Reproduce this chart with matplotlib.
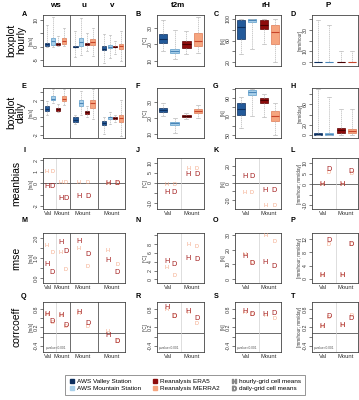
import matplotlib
matplotlib.use('Agg')
import matplotlib.pyplot as plt
from matplotlib.lines import Line2D

plt.rcParams['font.family'] = ['Liberation Sans', 'DejaVu Sans']

# colours: (face, edge, median)
valley_col = ('#235a9a', '#0d2f5e', '#0d2f5e')
mount_col = ('#a9d0ea', '#5a9bc9', '#4a86b8')
era5_col = ('#8e0c0c', '#5c0000', '#4a0000')
merra_col = ('#f6a57f', '#e07a55', '#c8452a')
box_cols = [valley_col, mount_col, era5_col, merra_col]
era5_txt = '#a31c1c'
merra_txt = '#f4a582'

# ---- boxplot stats per series [whislo, q1, median, q3, whishi]
# order: AWS valley, AWS mountain, ERA5, MERRA2
ws_hourly = [[0.0, 0.4, 1.0, 1.5, 8.0], [0.0, 0.7, 2.2, 3.2, 11.0],
             [0.2, 0.5, 1.0, 1.4, 4.0], [0.2, 0.8, 2.3, 3.1, 7.0]]
u_hourly = [[-3.8, -0.2, 0.0, 0.2, 5.9], [-3.0, 0.4, 1.9, 3.1, 10.6],
            [-1.5, 0.5, 0.8, 1.2, 5.0], [-3.5, 0.5, 1.6, 2.8, 7.0]]
v_hourly = [[-6.2, -1.4, -0.8, 0.1, 4.9], [-4.2, -0.6, 0.0, 0.5, 4.3],
            [-2.9, -0.2, 0.0, 0.2, 2.0], [-5.3, -1.0, 0.1, 0.9, 5.8]]
t2m_hourly = [[16.0, 21.0, 23.3, 25.9, 34.7], [11.0, 14.7, 16.0, 17.0, 28.8],
              [14.0, 18.0, 20.0, 22.0, 27.8], [15.0, 19.0, 21.9, 26.9, 36.5]]
rh_hourly = [[35, 62, 84, 98, 100], [44, 95, 98, 100, 100],
             [53, 82, 89, 98, 100], [20, 53, 75, 89, 100]]
p_hourly = [[0, 0, 0, 0.1, 39], [0, 0, 0, 0.1, 34.5],
            [0, 0, 0.1, 0.4, 10.5], [0, 0, 0.1, 0.3, 10]]

ws_daily = [[0.3, 0.77, 1.0, 1.29, 1.9], [1.7, 2.0, 2.2, 2.5, 3.3],
            [0.6, 0.8, 0.95, 1.1, 1.6], [1.5, 1.9, 2.2, 2.5, 3.3]]
u_daily = [[-0.8, -0.5, -0.25, 0.0, 0.3], [0.3, 1.3, 1.65, 2.0, 3.1],
           [0.1, 0.4, 0.6, 0.8, 1.3], [-0.2, 1.1, 1.7, 2.1, 3.3]]
v_daily = [[-1.9, -0.9, -0.65, -0.4, 0.1], [-0.8, -0.2, 0.0, 0.1, 0.6],
           [-0.5, -0.2, -0.05, 0.05, 0.3], [-2.2, -0.5, -0.1, 0.3, 2.0]]
t2m_daily = [[21.0, 23.6, 25.0, 26.0, 29.2], [10.7, 15.5, 16.5, 17.3, 20.0],
             [19.0, 20.8, 21.4, 22.0, 23.2], [20.0, 23.2, 24.3, 25.3, 28.0]]
rh_daily = [[57, 72, 78, 85, 91], [70, 93, 97, 99, 100],
            [69, 85, 88, 90, 95], [50, 65, 70, 76, 85]]
p_daily = [[0, 0.2, 1, 3, 91], [0, 0.2, 1, 3, 74],
           [0, 4.5, 9, 14.5, 50], [0, 3.5, 8, 12.5, 50]]

# ---- metrics: rows = ERA5 hourly, ERA5 daily, MERRA2 hourly, MERRA2 daily
# wind columns: ws Val, ws Mount, u Mount, v Mount ; others: Val, Mount
bias_wind = [[-0.25, -1.33, -1.13, 0.0], [-0.25, -1.33, -1.13, 0.0],
             [1.05, 0.03, 0.03, 0.0], [1.05, 0.03, 0.03, 0.0]]
bias_t2m = [[-4.8, 4.3], [-4.8, 4.3], [-0.6, 7.3], [-0.6, 7.3]]
bias_rh = [[7.6, -8.4], [7.6, -8.4], [-11.2, -26.5], [-11.2, -26.5]]
bias_p = [[0.0, 0.0], [7.2, 6.2], [0.0, 0.0], [5.5, 5.0]]

rmse_wind = [[0.66, 1.8, 1.84, 0.9], [0.25, 1.33, 1.16, 0.25],
             [1.64, 1.25, 1.48, 1.39], [1.26, 0.42, 0.57, 0.66]]
rmse_t2m = [[4.0, 4.8], [3.4, 4.4], [2.6, 8.0], [1.0, 7.4]]
rmse_rh = [[15.7, 11.4], [10.7, 8.4], [16.8, 30.0], [11.4, 26.0]]
rmse_p = [[1.1, 1.1], [11.5, 10.5], [1.0, 1.0], [10.2, 10.2]]

corr_wind = [[0.62, 0.59, 0.68, -0.06], [0.38, 0.25, 0.33, -0.27],
             [0.60, 0.57, 0.66, 0.07], [0.36, 0.21, 0.23, -0.25]]
corr_t2m = [[0.83, 0.70], [0.56, 0.49], [0.77, 0.69], [0.55, 0.31]]
corr_rh = [[0.70, 0.60], [0.60, 0.65], [0.69, 0.59], [0.60, 0.49]]
corr_p = [[0.23, 0.26], [0.54, 0.49], [0.22, 0.25], [0.53, 0.59]]

# ---- layout (pixels)
W, H = 359, 400
col_px = [(43, 125), (157, 204), (235, 281), (312, 358)]
row_px = [(15, 66), (88, 138), (158, 209), (233, 283), (302, 352)]
letter_y = [15, 86, 151, 221, 296]

wind_box_pos = [[1, 2, 3, 4], [6, 7, 8, 9], [11, 12, 13, 14]]
wind_pos_h = [1.0, 3.4, 6.6, 11.7]
wind_pos_d = [1.9, 4.3, 8.2, 13.3]
site_pos_h = [1.35, 3.15]
site_pos_d = [1.95, 3.9]

fig = plt.figure(figsize=(W / 100, H / 100), dpi=100)


def add_ax(col, row):
    x0, x1 = col_px[col]
    y0, y1 = row_px[row]
    ax = fig.add_axes([x0 / W, 1 - y1 / H, (x1 - x0) / W, (y1 - y0) / H])
    if col == 0:
        ax.set_xlim(0.3, 14.7)
    else:
        ax.set_xlim(0.5, 4.5)
    for s in ax.spines.values():
        s.set_linewidth(0.6)
        s.set_color('#444444')
    return ax


def style_y(ax, ylim, ticks, labels, ylabel):
    ax.set_ylim(ylim)
    ax.set_yticks(ticks)
    ax.set_yticklabels(labels)
    ax.tick_params(axis='y', length=2, width=0.5, pad=1, labelsize=3.8,
                   labelrotation=90, color='#444444', labelcolor='#333333')
    for lbl in ax.get_yticklabels():
        lbl.set_va('center')
    ax.set_ylabel(ylabel, fontsize=3.3, labelpad=0.5, color='#333333')


def style_x(ax, pos=None, labels=None):
    if pos is None:
        ax.set_xticks([])
    else:
        ax.set_xticks(pos)
        ax.set_xticklabels(labels)
        ax.tick_params(axis='x', length=0, pad=1.5, labelsize=4.2,
                       labelcolor='#333333')


def draw_boxes(ax, stats, positions):
    for st, pos, (fc, ec, mc) in zip(stats, positions, box_cols):
        d = dict(whislo=st[0], q1=st[1], med=st[2], q3=st[3], whishi=st[4], fliers=[])
        ax.bxp([d], positions=[pos], widths=0.72, patch_artist=True,
               showfliers=False, manage_ticks=False,
               boxprops=dict(facecolor=fc, edgecolor=ec, linewidth=0.5),
               medianprops=dict(color=mc, linewidth=0.8),
               whiskerprops=dict(color='#b8b8b8', linewidth=0.5, linestyle=(0, (2, 1))),
               capprops=dict(color='#b8b8b8', linewidth=0.5))


def draw_points(ax, vals, pos_h, pos_d):
    # MERRA2 first (light, small), ERA5 on top
    for y, x in zip(vals[2], pos_h):
        ax.text(x, y, 'H', color=merra_txt, fontsize=4, ha='center', va='center')
    for y, x in zip(vals[3], pos_d):
        ax.text(x, y, 'D', color=merra_txt, fontsize=4, ha='center', va='center')
    for y, x in zip(vals[0], pos_h):
        ax.text(x, y, 'H', color=era5_txt, fontsize=5.2, ha='center', va='center')
    for y, x in zip(vals[1], pos_d):
        ax.text(x, y, 'D', color=era5_txt, fontsize=5.2, ha='center', va='center')


def wind_dividers(ax, light=True):
    for xv in (5, 10):
        ax.axvline(xv, color='#555555', lw=0.6)
    if light:
        ax.axvline(2.6, color='#d0d0d0', lw=0.5)


# ---- row 1 & 2: boxplots
for row, (ws, u, v, t2m, rh, p) in enumerate([
        (ws_hourly, u_hourly, v_hourly, t2m_hourly, rh_hourly, p_hourly),
        (ws_daily, u_daily, v_daily, t2m_daily, rh_daily, p_daily)]):
    ax = add_ax(0, row)
    for stats, pos in zip((ws, u, v), wind_box_pos):
        draw_boxes(ax, stats, pos)
    wind_dividers(ax, light=False)
    style_x(ax)
    if row == 0:
        style_y(ax, (-7.3, 11.9), [-5, 0, 5, 10], ['-5', '0', '', '10'], '[m/s]')
    else:
        style_y(ax, (-2.4, 3.45), [-2, -1, 0, 1, 2, 3], ['-2', '', '0', '', '2', ''], '[m/s]')

    ax = add_ax(1, row)
    draw_boxes(ax, t2m, [1, 2, 3, 4])
    style_x(ax)
    style_y(ax, (7, 37.5) if row == 0 else (7.5, 38.5), [10, 20, 30], ['10', '20', '30'], '[°C]')

    ax = add_ax(2, row)
    draw_boxes(ax, rh, [1, 2, 3, 4])
    style_x(ax)
    if row == 0:
        style_y(ax, (13, 107), [20, 40, 60, 80, 100], ['20', '', '60', '', '100'], '[%]')
    else:
        style_y(ax, (46.5, 101), [50, 60, 70, 80, 90, 100], ['50', '', '70', '', '90', ''], '[%]')

    ax = add_ax(3, row)
    draw_boxes(ax, p, [1, 2, 3, 4])
    style_x(ax)
    if row == 0:
        style_y(ax, (-3.6, 43.6), [0, 10, 20, 30, 40], ['0', '10', '', '30', ''], '[mm/hour]')
    else:
        style_y(ax, (-6, 92), [0, 20, 40, 60, 80], ['0', '20', '', '60', ''], '[mm/day]')

# ---- rows 3-5: metrics
wind_lab_pos = [1.2, 3.5, 7.2, 12.4]
wind_lab = ['Val', 'Mount', 'Mount', 'Mount']
site_lab_pos = [1.45, 3.45]
site_lab = ['Val', 'Mount']

metric_rows = [
    (bias_wind, bias_t2m, bias_rh, bias_p),
    (rmse_wind, rmse_t2m, rmse_rh, rmse_p),
    (corr_wind, corr_t2m, corr_rh, corr_p),
]
ylims = [
    [(-2.25, 2.2), (-13, 12.5), (-31, 30), (-11.9, 12.5)],
    [(-0.25, 2.25), (-0.8, 10.5), (-2.7, 31.5), (-1.2, 13.8)],
    [(-0.6, 1.02)] * 4,
]
yticks = [
    [([-2, -1, 0, 1, 2], ['-2', '', '0', '1', '2']),
     ([-10, -5, 0, 5, 10], ['-10', '', '0', '5', '10']),
     ([-20, -10, 0, 10, 20], ['-20', '', '0', '', '20']),
     ([-10, -5, 0, 5, 10], ['-10', '', '0', '5', '10'])],
    [([0, 0.5, 1, 1.5, 2], ['0.0', '', '1.0', '', '2.0']),
     ([0, 2, 4, 6, 8, 10], ['0', '2', '4', '6', '8', '']),
     ([0, 10, 20, 30], ['0', '10', '20', '30']),
     ([0, 4, 8, 12], ['0', '4', '8', '12'])],
    [([-0.4, -0.1, 0.2, 0.5, 0.8], ['-0.4', '', '0.2', '', '0.8'])] * 4,
]
ylabels = ['[m/s]', '[°C]', '[%]', '[mm/hour; mm/day]']

for r, (vals_row, lims, tks) in enumerate(zip(metric_rows, ylims, yticks)):
    row = r + 2
    for col in range(4):
        ax = add_ax(col, row)
        if r != 1:
            ax.axhline(0, color='#555555', lw=0.6)
        if col == 0:
            wind_dividers(ax)
            draw_points(ax, vals_row[col], wind_pos_h, wind_pos_d)
            style_x(ax, wind_lab_pos, wind_lab)
        else:
            ax.axvline(2.55, color='#d0d0d0', lw=0.5)
            draw_points(ax, vals_row[col], site_pos_h, site_pos_d)
            style_x(ax, site_lab_pos, site_lab)
        style_y(ax, lims[col], tks[col][0], tks[col][1], ylabels[col])
        if r == 2:
            ax.text(0.03, 0.04, 'p-value<0.001', transform=ax.transAxes,
                    fontsize=2.3, color='#555555', ha='left', va='bottom')

# ---- panel letters
letters = 'ABCDEFGHIJKLMNOPQRST'
for row in range(5):
    for col in range(4):
        fig.text((col_px[col][0] - 19) / W, 1 - letter_y[row] / H, letters[row * 4 + col],
                 fontsize=5.2, fontweight='bold', ha='center', va='center')

# ---- column headers
for name, xp in [('ws', 55.5), ('u', 84), ('v', 112.5), ('t2m', 178), ('rH', 266), ('P', 328)]:
    fig.text(xp / W, 1 - 5.5 / H, name, fontsize=5.8, fontweight='bold', ha='center', va='center')

# ---- row labels
for name, yp in [('boxplot\nhourly', 40), ('boxplot\ndaily', 112), ('meanbias', 183),
                 ('rmse', 258), ('corrcoeff', 327)]:
    fig.text(16 / W, 1 - yp / H, name, fontsize=7.5, rotation=90, ha='center', va='center',
             linespacing=1.0, multialignment='center')

# ---- legend
handles = [
    Line2D([], [], ls='', marker='s', markersize=2.2, color=valley_col[1]),
    Line2D([], [], ls='', marker='s', markersize=2.2, color=mount_col[0]),
    Line2D([], [], ls='', marker='s', markersize=2.2, color=era5_col[0]),
    Line2D([], [], ls='', marker='s', markersize=2.2, color=merra_col[0]),
    Line2D([], [], ls='', marker=r'$\mathregular{H}$', markersize=3.2, color='#888888'),
    Line2D([], [], ls='', marker=r'$\mathregular{D}$', markersize=3.2, color='#888888'),
]
labels = ['AWS Valley Station', 'AWS Mountain Station', 'Reanalysis ERA5',
          'Reanalysis MERRA2', 'hourly-grid cell means', 'daily-grid cell means']
leg = fig.legend(handles, labels, loc='center', bbox_to_anchor=(185 / W, 1 - 385 / H),
                 ncol=3, fontsize=4.6, frameon=True, fancybox=False,
                 handlelength=0.8, handletextpad=0.4, columnspacing=1.8,
                 borderpad=0.6, labelspacing=0.25)
leg.get_frame().set_edgecolor('#666666')
leg.get_frame().set_linewidth(0.6)

fig.savefig('out.png', dpi=100)
